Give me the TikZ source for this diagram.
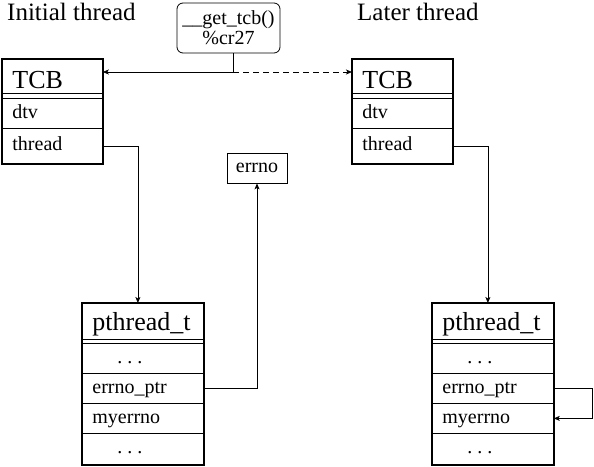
\documentclass[tikz,border=0pt]{standalone}
\usepackage{fontspec}
\setmainfont{Liberation Serif}
\usetikzlibrary{arrows.meta}
\newcommand\bigtxt{\fontsize{26}{30}\selectfont}
\newcommand\titletxt{\fontsize{25}{30}\selectfont}
\newcommand\smalltxt{\fontsize{20}{24}\selectfont}
\newcommand\rowdots{\hspace{25pt}.\hspace{5pt}.\hspace{5pt}.}
\tikzset{
  >={Stealth[length=6pt,width=5pt,inset=1.5pt]},
  wire/.style={line width=0.8pt},
  frame/.style={line width=2pt},
  hdr/.style={draw, wire, anchor=north west, inner xsep=10pt, inner ysep=0pt,
    font=\bigtxt, text height=24pt, align=left},
  fld/.style={draw, wire, anchor=north west, inner xsep=10pt, inner ysep=0pt,
    font=\smalltxt, text height=14pt, text depth=4pt, minimum height=30pt, align=left},
  tcbw/.style={text width=80pt},
  ptw/.style={text width=101pt},
}
\begin{document}
\begin{tikzpicture}[x=1pt, y=-1pt]
  \useasboundingbox (0,0) rectangle (594,466);
  % titles
  \node[anchor=base west, font=\titletxt, inner sep=0pt] (titleA) at (7,20) {Initial thread};
  \node[anchor=base west, font=\titletxt, inner sep=0pt] (titleB) at (357,20) {Later thread};
  \node[draw, wire, rounded corners=6pt, minimum width=103pt, minimum height=50pt,
    inner sep=0pt, align=center, font=\fontsize{20}{20}\selectfont] (gettcb) at (228.5,28)
    {\_\_get\_tcb()\\\%cr27};
  \node[draw, wire, minimum width=60pt, minimum height=30pt, inner sep=0pt,
    font=\smalltxt] (errno) at (257,168) {errno};

  % initial thread
  \node[hdr, tcbw, minimum height=34pt, text depth=0pt] (tcbA) at (2,59) {TCB};
  \node[fld, tcbw] (dtvA) at (2,98) {dtv};
  \node[fld, tcbw, minimum height=35pt] (thrA) at (2,128) {thread};
  \draw[frame] (tcbA.north west) rectangle (thrA.south east);

  \node[hdr, ptw, minimum height=36pt, text depth=6pt] (ptA) at (82,303) {pthread\_t};
  \node[fld, ptw] (dotsA) at (82,343) {\rowdots};
  \node[fld, ptw] (eptrA) at (82,373) {errno\_ptr};
  \node[fld, ptw] (myA) at (82,403) {myerrno};
  \node[fld, ptw, minimum height=31pt] (endA) at (82,433) {\rowdots};
  \draw[frame] (ptA.north west) rectangle (endA.south east);

  % later thread
  \node[hdr, tcbw, minimum height=34pt, text depth=0pt] (tcbB) at (352,59) {TCB};
  \node[fld, tcbw] (dtvB) at (352,98) {dtv};
  \node[fld, tcbw, minimum height=35pt] (thrB) at (352,128) {thread};
  \draw[frame] (tcbB.north west) rectangle (thrB.south east);

  \node[hdr, ptw, minimum height=36pt, text depth=6pt] (ptB) at (432,303) {pthread\_t};
  \node[fld, ptw] (dotsB) at (432,343) {\rowdots};
  \node[fld, ptw] (eptrB) at (432,373) {errno\_ptr};
  \node[fld, ptw] (myB) at (432,403) {myerrno};
  \node[fld, ptw, minimum height=31pt] (endB) at (432,433) {\rowdots};
  \draw[frame] (ptB.north west) rectangle (endB.south east);

  % connectors
  \coordinate (fork) at (233,72);
  \draw[wire] (fork |- gettcb.south) -- (fork);
  \draw[wire, ->] (fork) -- (fork -| tcbA.east);
  \draw[wire, ->, dash pattern=on 6pt off 4pt] (fork) -- (fork -| tcbB.west);
  \draw[wire, ->] (thrA.east) -| ([xshift=-5pt]ptA.north);
  \draw[wire, ->] (thrB.east) -| ([xshift=-5pt]ptB.north);
  \draw[wire, ->] (eptrA.east) -| (errno.south);
  \draw[wire, ->] (eptrB.east) -- ++(39,0) |- (myB.east);
\end{tikzpicture}
\end{document}
